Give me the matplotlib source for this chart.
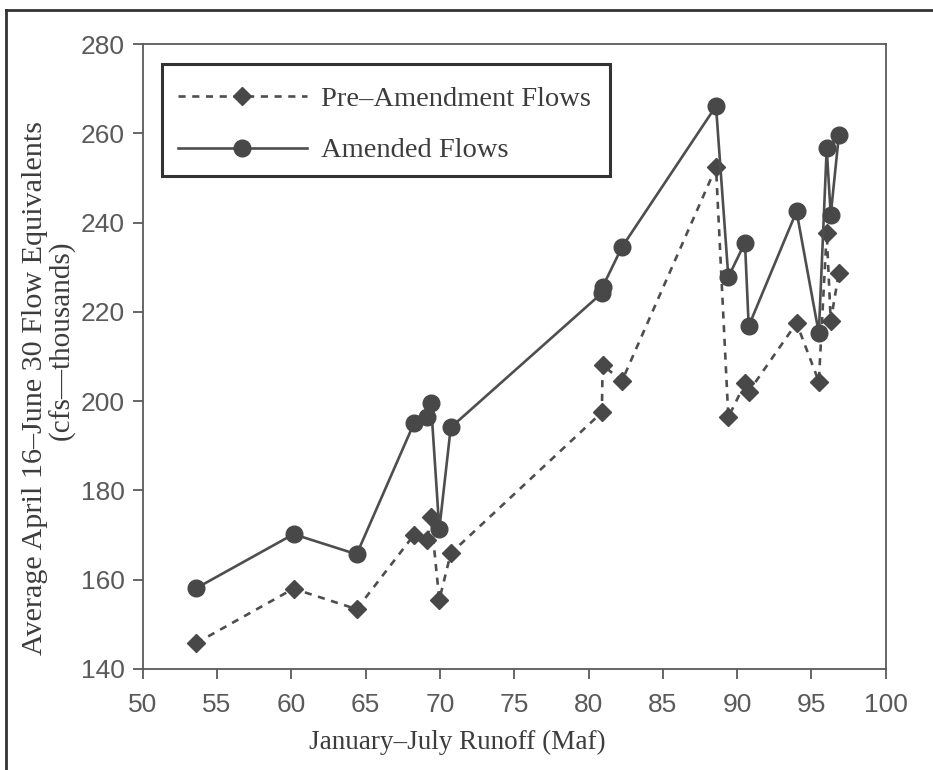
import matplotlib
matplotlib.use("Agg")
import matplotlib.pyplot as plt
from matplotlib.lines import Line2D
from matplotlib.patches import Rectangle

# ---- data ----
runoff = [53.6, 60.15, 64.4, 68.25, 69.15, 69.4, 69.96, 70.73, 80.9, 80.95,
          82.25, 88.58, 89.41, 90.53, 90.78, 94.0, 95.5, 96.03, 96.3, 96.85]
pre_amendment = [145.8, 158.0, 153.4, 170.0, 168.9, 174.1, 155.5, 165.9, 197.5, 208.1,
                 204.5, 252.4, 196.4, 204.0, 202.1, 217.5, 204.4, 237.7, 217.9, 228.8]
amended = [158.1, 170.2, 165.7, 195.0, 196.5, 199.5, 171.3, 194.1, 224.2, 225.6,
           234.5, 266.1, 227.8, 235.5, 216.8, 242.5, 215.2, 256.6, 241.7, 259.6]
x_ticks = [50, 55, 60, 65, 70, 75, 80, 85, 90, 95, 100]
y_ticks = [140, 160, 180, 200, 220, 240, 260, 280]
series_labels = ["Pre\u2013Amendment Flows", "Amended Flows"]
xlabel = "January\u2013July Runoff (Maf)"
ylabel_1 = "Average April 16\u2013June 30 Flow Equivalents"
ylabel_2 = "(cfs\u2014thousands)"

W, H = 933, 770
serif = ["Liberation Serif", "DejaVu Serif"]
sans = ["Liberation Sans", "DejaVu Sans"]
line_c = "#4e4e4e"
mark_c = "#484848"
text_c = "#3c3c3c"
tick_c = "#5a5a5a"

fig = plt.figure(figsize=(W / 100, H / 100), dpi=100)
fig.patch.set_facecolor("white")

x0, x1, y0, y1 = 142.7, 885.7, 44, 669
ax = fig.add_axes([x0 / W, 1 - y1 / H, (x1 - x0) / W, (y1 - y0) / H])

ax.plot(runoff, pre_amendment, color=line_c, lw=1.9, linestyle=(0, (2.7, 2.5)),
        marker="D", markersize=9.5, markerfacecolor=mark_c, markeredgecolor=mark_c,
        label=series_labels[0], zorder=3)
ax.plot(runoff, amended, color=line_c, lw=1.9, linestyle="-",
        marker="o", markersize=12, markerfacecolor=mark_c, markeredgecolor=mark_c,
        label=series_labels[1], zorder=3)

ax.set_xlim(50, 100)
ax.set_ylim(140, 280)
ax.set_xticks(x_ticks)
ax.set_yticks(y_ticks)
ax.tick_params(direction="out", length=7, width=1.3, color=tick_c,
               labelcolor=tick_c)
ax.tick_params(axis="x", pad=10)
ax.tick_params(axis="y", pad=6)
for lab in ax.get_xticklabels() + ax.get_yticklabels():
    lab.set_family(sans)
    lab.set_fontsize(19)
for s in ax.spines.values():
    s.set_color(tick_c)
    s.set_linewidth(1.3)

# legend (frame drawn separately so padding can be uneven, as in the original)
leg = ax.legend(loc="upper left", bbox_to_anchor=(178 / W, 1 - 86 / H),
                bbox_transform=fig.transFigure, borderaxespad=0,
                prop={"family": serif, "size": 20.5}, frameon=False,
                handlelength=4.53, handletextpad=0.49, labelspacing=0.9,
                borderpad=0.0, markerscale=1.0)
for t in leg.get_texts():
    t.set_color(text_c)
fig.add_artist(Rectangle((162 / W, 1 - 176 / H), (610 - 162) / W, (176 - 64.5) / H,
                         transform=fig.transFigure, fill=False,
                         edgecolor="#333333", linewidth=2.2, zorder=5))

fig.text(457.5 / W, 1 - 742 / H, xlabel, ha="center", va="center",
         family=serif, fontsize=19.5, color=text_c)
fig.text(35 / W, 1 - 388 / H, ylabel_1, ha="center", va="center", rotation=90,
         family=serif, fontsize=21.7, color=text_c)
fig.text(62 / W, 1 - 340 / H, ylabel_2, ha="center", va="center", rotation=90,
         family=serif, fontsize=21, color=text_c)

# outer frame of the page
fig.add_artist(Line2D([6 / W, 1.0], [1 - 10 / H, 1 - 10 / H], color="#333333",
                      lw=2, transform=fig.transFigure))
fig.add_artist(Line2D([6 / W, 6 / W], [1 - 10 / H, 0.0], color="#333333",
                      lw=2, transform=fig.transFigure))

fig.savefig("out.png", dpi=100, facecolor="white")
